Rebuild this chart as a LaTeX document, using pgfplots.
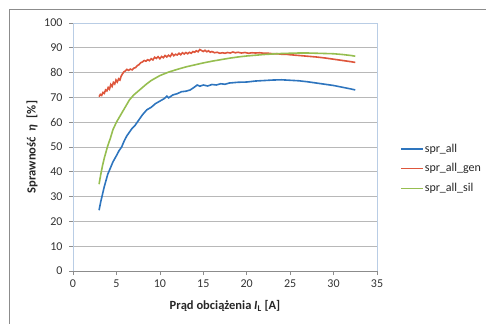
\documentclass[border=0pt]{standalone}
\usepackage{fontspec}
\setmainfont{Carlito}
\usepackage{pgfplots}
\pgfplotsset{compat=1.18}
\definecolor{cblue}{RGB}{46,117,190}
\definecolor{cred}{RGB}{222,86,60}
\definecolor{cgreen}{RGB}{150,190,80}
\definecolor{pborder}{RGB}{185,205,229}
\newcommand\us{\symbol{95}}
\begin{document}
\begin{tikzpicture}
\path (0pt,0pt) rectangle (486pt,324pt);
\begin{axis}[
  at={(73pt,53pt)}, anchor=south west, scale only axis,
  width=304pt, height=248pt,
  xmin=0, xmax=35, ymin=0, ymax=100,
  xtick distance=5, ytick distance=10,
  ymajorgrids, grid style={color=black!28, line width=0.7pt},
  axis line style={draw=none},
  tick style={color=black!45, line width=0.7pt},
  major tick length=4pt, tick align=outside,
  xtick pos=bottom, ytick pos=left,
  /pgf/number format/assume math mode=true,
  tick label style={font=\fontsize{12}{14}\selectfont, text=black!80},
  yticklabel style={xshift=-3pt},
  xticklabel style={yshift=-1pt},
  xlabel={Prąd obciążenia \textit{I}\textsubscript{L} [A]},
  ylabel={Sprawność\enspace\textit{η}\enspace[\%]},
  label style={font=\bfseries\fontsize{12.5}{14}\selectfont, text=black!85},
  xlabel style={at={(rel axis cs:0.5,-0.141)}, anchor=center},
  ylabel style={at={(rel axis cs:-0.1349,0.5)}, anchor=center},
  legend style={at={(1.0757,0.413)}, anchor=west, draw=none, fill=none,
    inner sep=0pt, row sep=8pt, font=\fontsize{12}{14}\selectfont,
    nodes={inner sep=1pt, text=black!85}},
  legend cell align=left,
  legend image code/.code={\draw[#1, line width=1.6pt] (0pt,0pt) -- (22pt,0pt);},
  after end axis/.code={
    \draw[pborder, line width=0.8pt] (rel axis cs:0,0) -- (rel axis cs:0,1) -- (rel axis cs:1,1) -- (rel axis cs:1,0);
    \draw[black!45, line width=0.8pt] (rel axis cs:0,0) -- (rel axis cs:1,0);
  },
]
\addplot[cblue, line width=1.6pt] coordinates {
(3.0,24.5)(3.2,28)(3.4,31)(3.6,34)(3.8,36.5)(4.0,39)(4.3,41.5)(4.6,44)(5.0,46.5)
(5.3,48.5)(5.6,50)(5.9,52.5)(6.2,54.5)(6.5,56)(6.8,57.5)(7.1,58.5)(7.5,60.5)
(8.0,63)(8.5,65)(9.0,66)(9.5,67.5)(10.0,68.5)(10.5,69.5)(10.8,70.5)(11.0,69.8)
(11.5,71)(12.0,71.5)(12.5,72.3)(13.0,72.5)(13.5,73)(14.0,74.2)(14.3,75)(14.6,74.5)
(15.0,75)(15.5,74.6)(16.0,75.2)(16.5,75.0)(17.0,75.5)(17.5,75.3)(18,75.8)(19,76.1)
(20,76.2)(21,76.6)(22,76.8)(23,77.0)(24,77.1)(25,76.9)(26,76.7)(27,76.3)(28,75.8)
(29,75.3)(30,74.8)(31,74.1)(32,73.4)(32.5,73.0)
};
\addlegendentry{spr\us all}
\addplot[cred, line width=1.6pt] coordinates {
(3.0,70.3)(3.15,71.2)(3.3,70.8)(3.45,72.0)(3.6,71.6)(3.75,73.0)(3.9,72.6)(4.05,74.0)
(4.2,73.3)(4.35,75.2)(4.5,74.4)(4.65,76.0)(4.8,75.4)(4.95,77.0)(5.1,76.2)(5.25,77.5)
(5.4,77.0)(5.55,78.6)(5.7,79.5)(5.85,80.3)(6.0,80.6)(6.2,81.3)(6.4,80.9)(6.6,81.4)
(6.8,81.1)(7.0,81.8)(7.2,82.0)(7.4,82.8)(7.6,83.2)(7.8,84.0)(8.0,84.3)(8.2,84.9)
(8.4,84.6)(8.6,85.2)(8.8,84.8)(9.0,85.6)(9.2,85.1)(9.4,86.2)(9.6,85.7)(9.8,86.4)
(10.0,85.6)(10.2,86.5)(10.4,86.0)(10.6,86.9)(10.8,86.3)(11.0,87.0)(11.2,86.5)(11.4,87.7)
(11.6,86.8)(11.8,87.4)(12.0,87.1)(12.2,87.8)(12.4,87.2)(12.6,88.0)(12.8,87.5)(13.0,88.1)
(13.2,87.6)(13.4,88.2)(13.6,87.8)(13.8,88.5)(14.0,88.2)(14.2,88.8)(14.4,88.4)(14.6,89.3)
(14.8,88.9)(15.0,88.5)(15.2,89.0)(15.4,88.4)(15.6,88.8)(15.8,88.2)(16.0,88.5)(16.3,88.0)
(16.6,88.2)(16.9,87.8)(17.2,88.0)(17.5,87.8)(17.8,88.1)(18.1,87.9)(18.4,88.3)(18.7,88.0)
(19.0,88.2)(19.4,87.9)(19.8,88.1)(20.2,87.8)(20.6,88.0)(21.0,87.9)(21.5,88.0)(22,87.8)
(22.5,87.8)(23,87.6)(23.5,87.6)(24,87.4)(24.5,87.4)(25,87.2)(26,86.9)(27,86.6)
(28,86.3)(29,85.9)(30,85.4)(31,84.9)(32,84.4)(32.5,84.1)
};
\addlegendentry{spr\us all\us gen}
\addplot[cgreen, line width=1.6pt] coordinates {
(3.0,35)(3.2,39)(3.4,42.5)(3.6,45.5)(3.8,48)(4.0,50.5)(4.3,53.5)(4.6,57)(5.0,60)
(5.5,63)(6.0,66)(6.5,69)(7.0,71)(7.5,72.5)(8.0,74)(8.5,75.5)(9.0,76.8)(9.5,77.8)
(10.0,78.8)(11,80.2)(12,81.3)(13,82.3)(14,83.1)(15,83.9)(16,84.6)(17,85.2)(18,85.8)
(19,86.3)(20,86.7)(21,87)(22,87.3)(23,87.5)(24,87.7)(25,87.8)(26,87.9)(27,87.9)
(28,87.8)(29,87.7)(30,87.6)(31,87.3)(32,86.9)(32.5,86.6)
};
\addlegendentry{spr\us all\us sil}
\end{axis}
\draw[black!45, line width=0.8pt] (9pt,0.4pt) -- (9pt,315pt) -- (485.6pt,315pt);
\end{tikzpicture}
\end{document}
